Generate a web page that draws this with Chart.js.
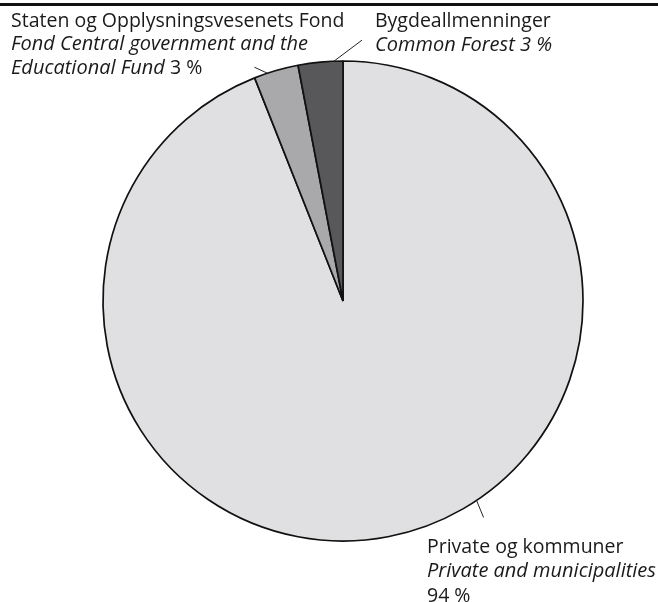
<!DOCTYPE html>
<html>
<head>
<meta charset="utf-8">
<script src="https://cdn.jsdelivr.net/npm/chart.js@4.4.1/dist/chart.umd.min.js"></script>
<style>
  body { margin: 0; background: #fff; }
  canvas { display: block; }
</style>
</head>
<body>
<canvas id="pieChart" width="658" height="602"></canvas>
<script>
// Data
const categories = ['Private og kommuner', 'Staten og Opplysningsvesenets Fond', 'Bygdeallmenninger'];
const shares = [94, 3, 3];
const sliceColors = ['#e0e0e2', '#a9a9ab', '#58585a'];

// label text lines: [text, italic]
const labelLines = [
    [[['Private og kommuner', false]], [['Private and municipalities', true]], [['94 %', false]]],
    [[['Staten og Opplysningsvesenets Fond', false]], [['Fond Central government and the', true]], [['Educational Fund', true], [' 3 %', false]]],
    [[['Bygdeallmenninger', false]], [['Common Forest 3 %', true]]]
];
// where each label sits + leader line (fraction along arc, offset of outer end)
const labelPos = [
    { x: 427, y: 547, lh: 24.5, frac: 0.432, dx: 7, dy: 17 },
    { x: 11, y: 21, lh: 23.5, frac: 0.3, dx: -13, dy: -6 },
    { x: 375, y: 21, lh: 24, frac: 0.8, dx: 28, dy: -21 }
];

const FONT = '"Open Sans", "Noto Sans", sans-serif';
const SIZE = 19.5;
const SIZE_IT = 20;

const labelPlugin = {
    id: 'pieLabels',
    afterDraw(chart) {
        const ctx = chart.ctx;
        ctx.save();
        // top rule
        ctx.fillStyle = '#111';
        ctx.fillRect(0, 3, chart.width, 3);

        const arcs = chart.getDatasetMeta(0).data;
        arcs.forEach((arc, i) => {
            const p = labelPos[i];
            const a = arc.startAngle + (arc.endAngle - arc.startAngle) * p.frac;
            const r = arc.outerRadius;
            const x0 = arc.x + Math.cos(a) * r;
            const y0 = arc.y + Math.sin(a) * r;
            ctx.strokeStyle = '#222';
            ctx.lineWidth = 1;
            ctx.beginPath();
            ctx.moveTo(x0, y0);
            ctx.lineTo(x0 + p.dx, y0 + p.dy);
            ctx.stroke();

            ctx.fillStyle = '#1a1a1a';
            ctx.textBaseline = 'middle';
            ctx.textAlign = 'left';
            labelLines[i].forEach((line, j) => {
                let x = p.x;
                line.forEach(([txt, it]) => {
                    ctx.font = it ? 'italic ' + SIZE_IT + 'px ' + FONT : SIZE + 'px ' + FONT;
                    ctx.fillText(txt, x, p.y + j * p.lh);
                    x += ctx.measureText(txt).width;
                });
            });
        });
        ctx.restore();
    }
};

new Chart(document.getElementById('pieChart').getContext('2d'), {
    type: 'pie',
    data: {
        labels: categories,
        datasets: [{
            data: shares,
            backgroundColor: sliceColors,
            borderColor: '#111',
            borderWidth: 1.7
        }]
    },
    options: {
        responsive: false,
        animation: false,
        radius: 240,
        layout: { padding: { top: 61, bottom: 61, left: 103, right: 75 } },
        plugins: {
            legend: { display: false },
            tooltip: { enabled: false }
        }
    },
    plugins: [labelPlugin]
});
</script>
</body>
</html>
